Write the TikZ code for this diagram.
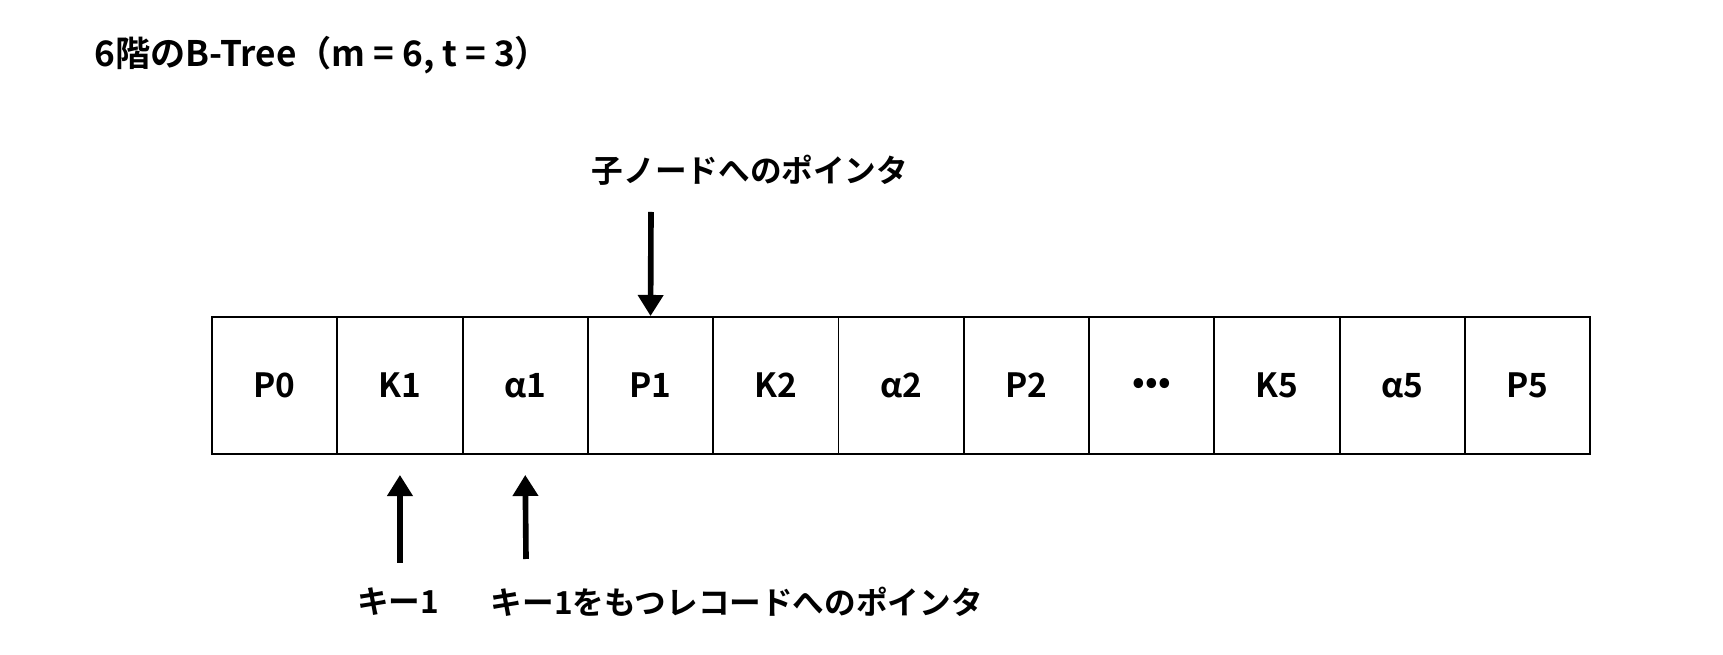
\documentclass[tikz,border=0pt]{standalone}
\usepackage{fontspec}
\setmainfont{Noto Sans CJK JP Bold}
\usetikzlibrary{arrows.meta}
\begin{document}
\begin{tikzpicture}[x=0.01cm,y=-0.01cm,
  cell/.style={draw,line width=0.5pt,minimum width=1.253cm,minimum height=1.37cm,inner sep=0,font=\fontsize{9.5}{11}\selectfont},
  lbl/.style={font=\fontsize{9}{11}\selectfont,inner sep=0},
  arr/.style={line width=1.6pt,-{Triangle[length=6pt,width=7pt]}}]
\useasboundingbox (0,0) rectangle (1723,655);
\node[lbl,anchor=west,font=\fontsize{10}{12}\selectfont] (title) at (94,55) {6階のB-Tree（m = 6, t = 3）};
\foreach \t [count=\i] in {P0,K1,α1,P1,K2,α2,P2,•••,K5,α5,P5}{
  \node[cell] (c\i) at ({212+(\i-0.5)*125.3},385.5) {\t};
}
\node[lbl] (top) at (750,170) {子ノードへのポインタ};
\coordinate (ts) at (651,212);
\draw[arr] (ts) -- (c4.north);
\coordinate (b1) at (400,563);
\coordinate (b2) at (526,559);
\draw[arr] (b1) -- ([yshift=-0.2cm]c2.south);
\draw[arr] (b2) -- ([yshift=-0.2cm]c3.south);
\node[lbl] (k1) at (398,602) {キー1};
\node[lbl,anchor=west] (kp) at (490,602) {キー1をもつレコードへのポインタ};
\end{tikzpicture}
\end{document}
